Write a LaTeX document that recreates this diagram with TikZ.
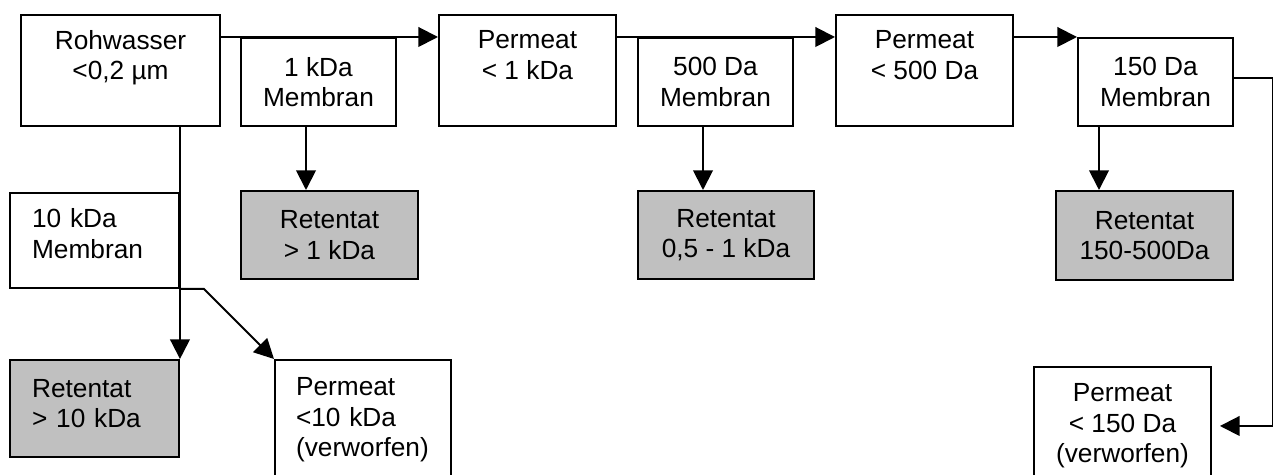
\documentclass[tikz,border=0pt]{standalone}
\usepackage{fontspec}
\setmainfont{Liberation Sans}
\usetikzlibrary{arrows.meta,calc}

\newcommand{\unitpx}{0.457pt}
\definecolor{retentatgray}{RGB}{192,192,192}

\tikzset{
  box/.style 2 args={draw, line width=0.9pt, anchor=north west, align=center,
    inner sep=0pt, minimum width=#1*\unitpx, minimum height=#2*\unitpx,
    font=\fontsize{12pt}{14pt}\selectfont},
  leftbox/.style n args={3}{box={#1}{#2}, align=left, inner xsep=10pt, text width=#3},
  retentat/.style={fill=retentatgray},
  flow/.style={line width=0.9pt, -{Triangle[length=9pt,width=9pt]}},
}

\begin{document}
\begin{tikzpicture}[x=\unitpx, y=-\unitpx]
  \useasboundingbox (0,0) rectangle (1273,475);
  \clip (0,0) rectangle (1273,475);

  % permeate line
  \node[box={199}{111}] (raw) at (20,14) {Rohwasser\\<0,2 µm\\~};
  \node[box={155}{88}] (m1) at (240,37) {1 kDa\\Membran};
  \node[box={177}{111}] (p1) at (438,14) {Permeat\\< 1 kDa\\~};
  \node[box={155}{88}] (m500) at (637,37) {500 Da\\Membran};
  \node[box={177}{111}] (p500) at (835,14) {Permeat\\< 500 Da\\~};
  \node[box={155}{88}] (m150) at (1077,37) {150 Da\\Membran};

  % retentates
  \node[box={177}{88}, retentat] (r1) at (240,190) {Retentat\\> 1 kDa};
  \node[box={176}{88}, retentat] (r500) at (637,190) {Retentat\\0,5 - 1 kDa};
  \node[box={177}{89}, retentat] (r150) at (1055,190) {Retentat\\150-500Da};

  % 10 kDa branch
  \node[leftbox={169}{95}{57pt}, text depth=20.4pt] (m10) at (9,192) {10 kDa\\Membran};
  \node[leftbox={169}{97}{57pt}, retentat, text depth=18.6pt] (r10) at (9,359) {Retentat\\> 10 kDa};
  \node[leftbox={176}{120}{61.2pt}, inner xsep=9.6pt] (p10) at (274,359) {Permeat\\<10 kDa\\(verworfen)};

  \node[box={177}{118}] (p150) at (1033,366) {Permeat\\< 150 Da\\(verworfen)};

  \draw[flow] (raw.east |- m1.north) -- (p1.west |- m1.north);
  \draw[flow] (p1.east |- m500.north) -- (p500.west |- m500.north);
  \draw[flow] (p500.east |- m150.north) -- (m150.north west);

  \draw[flow] ($(m1.south west)+(66,0)$) -- ($(r1.north west)+(66,0)$);
  \draw[flow] ($(m500.south west)+(66,0)$) -- ($(r500.north west)+(66,0)$);
  \draw[flow] ($(m150.south west)+(22,0)$) -- ($(r150.north west)+(44,0)$);

  \draw[flow] (raw.south -| r10.north east) -- (r10.north east);
  \draw[flow] (m10.south east) -- ++(24,0) -- (p10.north west);
  \draw[flow] ($(m150.east)+(0,-4)$) -- ++(39,0) |- ($(p150.east)+(8,0)$);
\end{tikzpicture}
\end{document}
